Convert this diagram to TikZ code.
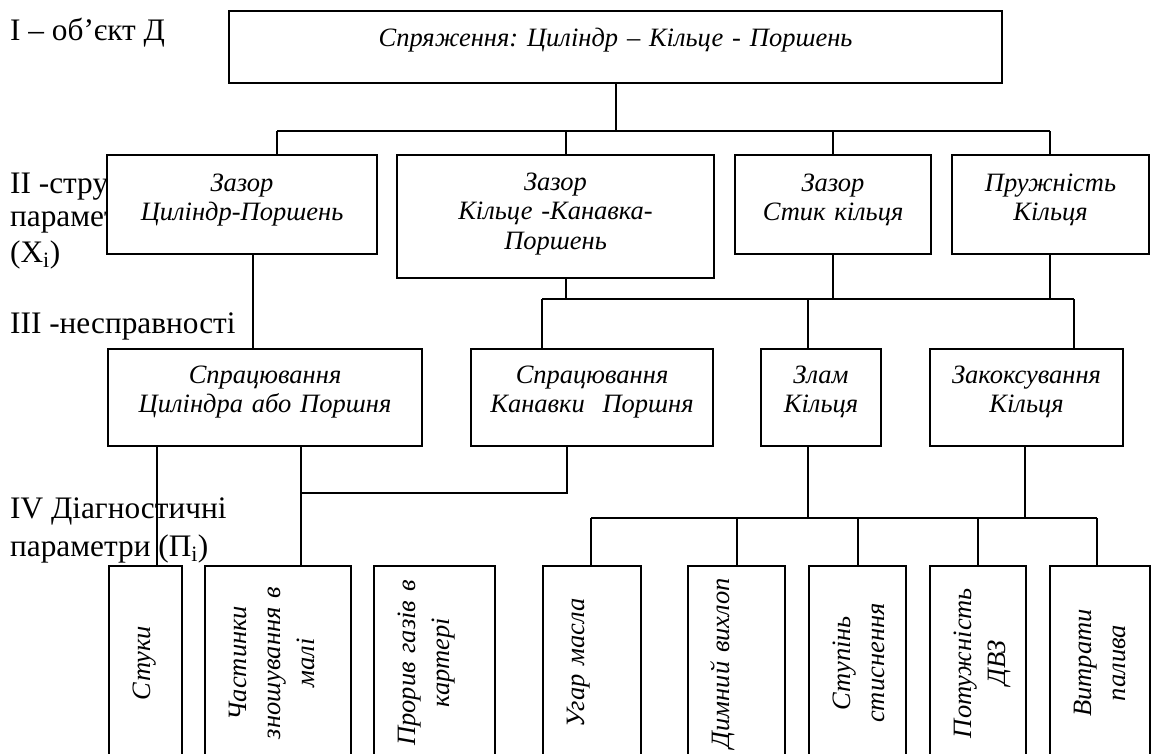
\documentclass[tikz,border=0pt]{standalone}
\usepackage{fontspec}
\setmainfont{Liberation Serif}
\usepackage{graphicx}
\frenchspacing
\newcommand{\rottxt}[1]{\rotatebox{90}{\begin{tabular}{@{}c@{}}#1\end{tabular}}}
\begin{document}
\begin{tikzpicture}[x=1pt,y=-1pt,
  box/.style={draw, line width=2.1pt, fill=white, align=center, inner sep=0pt, anchor=north west,
     font=\itshape\fontsize{26.5}{29.5}\selectfont},
  vbox/.style={draw, line width=2.1pt, fill=white, align=left, inner xsep=18pt, inner ysep=0pt,
     anchor=north west, minimum height=194pt, font=\itshape\fontsize{26.5}{34}\selectfont},
  lvl/.style={anchor=base west, inner sep=0pt, font=\fontsize{31.3}{34}\selectfont},
  conn/.style={line width=1.9pt}]
\useasboundingbox (0,0) rectangle (1151,753);
\fill[white] (0,0) rectangle (1151,753);
\clip (0,0) rectangle (1151,753);

% level labels
\node[lvl] (L1) at (10,40) {I – об’єкт Д};
\node[lvl] (L2a) at (10,193) {II -структурні};
\node[lvl] (L2b) at (10,226) {параметри};
\node[lvl] (L2c) at (10,262) {(X\textsubscript{i})};
\node[lvl] (L3) at (10,333) {III -несправності};
\node[lvl] (L4a) at (10,518) {IV Діагностичні};
\node[lvl] (L4b) at (10,556) {параметри (П\textsubscript{i})};

% level I
\node[box, text width=773pt, text height=35pt, text depth=37pt] (top) at (228,10) {Спряження: Циліндр – Кільце - Поршень};

% level II
\node[box, text width=270pt, text height=36pt, text depth=63pt] (A) at (106,154) {Зазор\\Циліндр-Поршень};
\node[box, text width=317pt, text height=35pt, text depth=88pt] (B) at (396,154) {Зазор\\Кільце -Канавка-\\Поршень};
\node[box, text width=196pt, text height=36pt, text depth=63pt] (C) at (734,154) {Зазор\\Стик кільця};
\node[box, text width=197pt, text height=36pt, text depth=63pt] (D) at (951,154) {Пружність\\Кільця};

% level III
\node[box, text width=314pt, text height=34pt, text depth=63pt] (F1) at (107,348) {Спрацювання\\Циліндра або Поршня};
\node[box, text width=242pt, text height=34pt, text depth=63pt] (F2) at (470,348) {Спрацювання\\Канавки\ \ Поршня};
\node[box, text width=120pt, text height=34pt, text depth=63pt] (F3) at (760,348) {Злам\\Кільця};
\node[box, text width=193pt, text height=34pt, text depth=63pt] (F4) at (929,348) {Закоксування\\Кільця};

% level IV
\node[vbox, text width=37pt] (G1) at (108,565) {\rottxt{Стуки}};
\node[vbox, text width=110pt] (G2) at (204,565) {\rottxt{Частинки\\зношування в\\малі}};
\node[vbox, text width=85pt] (G3) at (373,565) {\rottxt{Прорив газів в\\картері}};
\node[vbox, text width=62pt] (G4) at (542,565) {\rottxt{Угар масла}};
\node[vbox, text width=61pt] (G5) at (687,565) {\rottxt{Димний вихлоп}};
\node[vbox, text width=61pt] (G6) at (808,565) {\rottxt{Ступінь\\стиснення}};
\node[vbox, text width=60pt] (G7) at (929,565) {\rottxt{Потужність\\ДВЗ}};
\node[vbox, text width=64pt] (G8) at (1049,565) {\rottxt{Витрати\\палива}};

% connectors I -> II
\coordinate (hA) at (277,131);
\coordinate (hB) at (566,131);
\coordinate (hD) at (1050,131);
\draw[conn] (top.south) -- (top.south |- hA);
\draw[conn] (hA) -- (hD);
\draw[conn] (hA) -- (A.north -| hA);
\draw[conn] (hB) -- (B.north -| hB);
\draw[conn] (C.north |- hA) -- (C.north);
\draw[conn] (hD) -- (D.north -| hD);

% connectors II -> III
\coordinate (a1) at (253,0);
\draw[conn] (A.south -| a1) -- (F1.north -| a1);
\coordinate (k1) at (542,299);
\coordinate (kB) at (566,299);
\coordinate (k3) at (808,299);
\coordinate (k2) at (1074,299);
\draw[conn] (k1) -- (k2);
\draw[conn] (B.south -| kB) -- (kB);
\draw[conn] (C.south) -- (C.south |- k1);
\draw[conn] (D.south -| hD) -- (hD |- k1);
\draw[conn] (k1) -- (F2.north -| k1);
\draw[conn] (k3) -- (F3.north -| k3);
\draw[conn] (k2) -- (F4.north -| k2);

% connectors III -> IV
\coordinate (m1) at (157,0);
\draw[conn] (F1.south -| m1) -- (G1.north -| m1);
\coordinate (n1) at (301,493);
\coordinate (n2) at (567,493);
\draw[conn] (F1.south -| n1) -- (G2.north -| n1);
\draw[conn] (F2.south -| n2) -- (n2) -- (n1);
\coordinate (p1) at (591,518);
\coordinate (p4) at (1025,518);
\coordinate (p2) at (1097,518);
\draw[conn] (p1) -- (p2);
\draw[conn] (F3.south -| k3) -- (k3 |- p1);
\draw[conn] (F4.south -| p4) -- (p4);
\draw[conn] (p1) -- (G4.north -| p1);
\draw[conn] (G5.north |- p1) -- (G5.north);
\draw[conn] (G6.north |- p1) -- (G6.north);
\draw[conn] (G7.north |- p1) -- (G7.north);
\draw[conn] (p2) -- (G8.north -| p2);
\end{tikzpicture}
\end{document}
